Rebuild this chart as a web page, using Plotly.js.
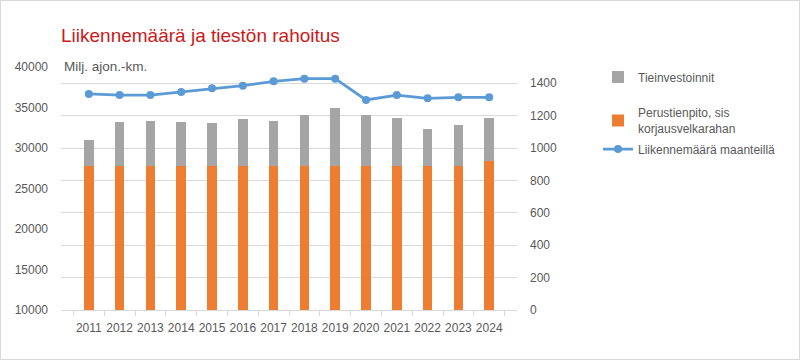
<!DOCTYPE html>
<html>
<head>
<meta charset="utf-8">
<script src="https://cdn.plot.ly/plotly-3.0.1.min.js"></script>
<style>
  html, body { margin: 0; padding: 0; background: #ffffff; }
  #chart { width: 798px; height: 358px; border: 1px solid #d9d9d9; }
</style>
</head>
<body>
<div id="chart"></div>
<script>
// ---- Data ----
const years = ['2011','2012','2013','2014','2015','2016','2017','2018','2019','2020','2021','2022','2023','2024'];
const perustienpito = [891, 891, 891, 891, 891, 891, 891, 891, 891, 891, 891, 891, 891, 922];      // M€ (right axis)
const tieinvestoinnit = [161, 272, 278, 272, 262, 290, 274, 315, 354, 315, 297, 229, 251, 262];     // M€ (right axis)
const liikennemaara = [36670, 36540, 36540, 36910, 37370, 37700, 38230, 38560, 38560, 35930, 36540, 36130, 36260, 36260]; // milj. ajon.-km (left axis)

const seriesNames = {
  invest: 'Tieinvestoinnit',
  perus: 'Perustienpito, sis<br>korjausvelkarahan',
  line: 'Liikennemäärä maanteillä'
};

const FONT = 'Liberation Sans, Arial, sans-serif';
const TXT = '#595959';

const traces = [
  {
    type: 'bar', x: years, y: perustienpito, name: seriesNames.perus,
    marker: { color: '#ED7D31' }, yaxis: 'y', legend: 'legend2'
  },
  {
    type: 'bar', x: years, y: tieinvestoinnit, name: seriesNames.invest,
    marker: { color: '#A5A5A5' }, yaxis: 'y', legend: 'legend'
  },
  {
    type: 'scatter', mode: 'lines+markers', x: years, y: liikennemaara, name: seriesNames.line,
    line: { color: '#5B9BD5', width: 2.75 }, marker: { color: '#5B9BD5', size: 8 },
    yaxis: 'y2', legend: 'legend3'
  }
];

const W = 798, H = 358;
function lg(yPx) {
  return {
    xref: 'container', yref: 'container',
    x: 597 / W, y: 1 - (yPx - 1) / H, xanchor: 'left', yanchor: 'middle',
    bgcolor: 'rgba(0,0,0,0)', borderwidth: 0,
    font: { family: FONT, size: 12, color: TXT },
    itemwidth: 30
  };
}

const layout = {
  width: W, height: H,
  margin: { l: 59.7, r: 282, t: 66, b: 49, pad: 0 },
  paper_bgcolor: '#ffffff', plot_bgcolor: '#ffffff',
  font: { family: FONT, size: 12, color: TXT },
  barmode: 'stack', bargap: 0.69,
  showlegend: true,
  title: {
    text: 'Liikennemäärä ja tiestön rahoitus',
    font: { family: FONT, size: 19, color: '#CC1A1A' },
    xref: 'paper', x: 0, xanchor: 'left',
    yref: 'container', y: 1 - 34 / H, yanchor: 'middle'
  },
  xaxis: {
    type: 'category', showgrid: false, showline: true, linecolor: '#d9d9d9', linewidth: 1,
    ticks: 'outside', tickson: 'boundaries', ticklen: 5, tickcolor: '#d9d9d9', tickangle: 0,
    tickfont: { family: FONT, size: 12, color: TXT }, ticklabelstandoff: 7, zeroline: false
  },
  yaxis: {
    side: 'right', range: [0, 1500], tickvals: [0, 200, 400, 600, 800, 1000, 1200, 1400],
    tickformat: 'd',
    showgrid: true, gridcolor: '#d9d9d9', gridwidth: 1, zeroline: false, showline: false,
    tickfont: { family: FONT, size: 12, color: TXT }, ticklabelstandoff: 12
  },
  yaxis2: {
    side: 'left', overlaying: 'y', range: [10000, 40000],
    tickvals: [10000, 15000, 20000, 25000, 30000, 35000, 40000], tickformat: 'd',
    showgrid: false, zeroline: false, showline: false,
    tickfont: { family: FONT, size: 12, color: TXT }, ticklabelstandoff: 12
  },
  legend: lg(77),
  legend2: lg(121),
  legend3: lg(149),
  annotations: [{
    text: 'Milj. ajon.-km.', xref: 'paper', yref: 'paper', x: 0, y: 1,
    xanchor: 'left', yanchor: 'middle', xshift: 1, yshift: 1, showarrow: false,
    font: { family: FONT, size: 13.5, color: TXT }
  }]
};

Plotly.newPlot('chart', traces, layout, { displayModeBar: false, staticPlot: true });
</script>
</body>
</html>
